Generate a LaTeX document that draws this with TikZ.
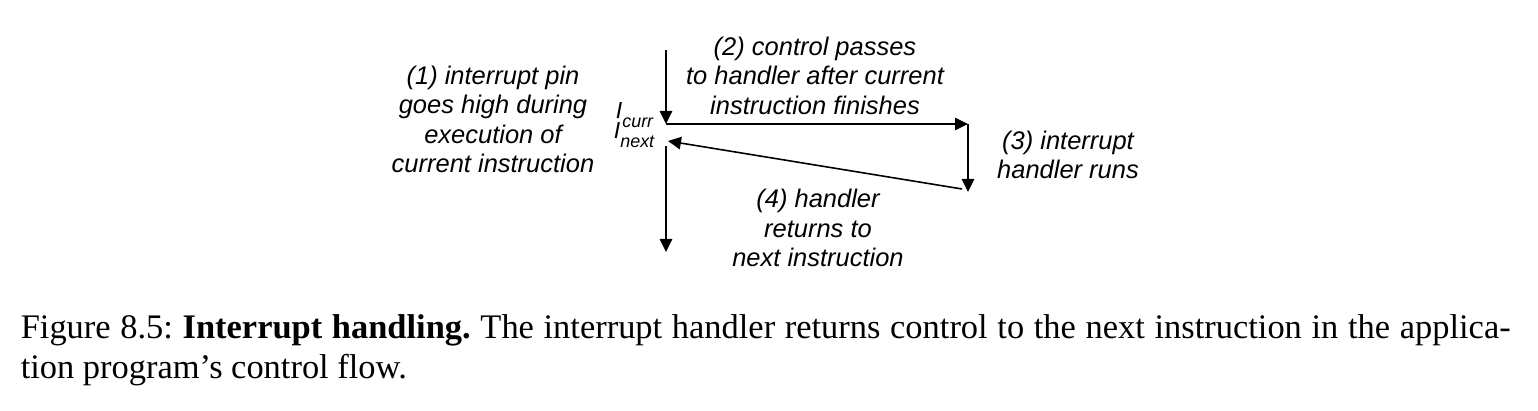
\documentclass[tikz,border=0pt]{standalone}
\usepackage{fontspec}
\setmainfont{Liberation Serif}
\newfontfamily\helv{Liberation Sans}
\usetikzlibrary{arrows.meta}

\newcommand{\instr}[1]{\fontsize{6.6}{7}\selectfont I\raisebox{-2.3pt}{\fontsize{5.1}{5}\selectfont #1}}

\begin{document}
\begin{tikzpicture}[line width=0.45pt, >={Triangle[length=1.3mm, width=1.25mm]},
        note/.style = {font=\helv\itshape\fontsize{7.25}{8.4}\selectfont, align=center, inner sep=0pt},
        lbl/.style = {font=\helv\itshape, anchor=base east, inner sep=0pt}]
        \useasboundingbox (0,0) rectangle (15.38,-4.11);

        \coordinate (pin) at (6.66,-0.50);
        \coordinate (curr) at (6.66,-1.24);
        \coordinate (done) at (9.68,-1.24);
        \coordinate (runs) at (9.68,-1.92);
        \coordinate (ret) at (9.62,-1.89);
        \coordinate (next) at (6.68,-1.41);
        \coordinate (resume) at (6.66,-1.46);
        \coordinate (go) at (6.66,-2.52);

        \node[lbl] (Icurr) at (6.54,-1.19) {\instr{curr}};
        \node[lbl] (Inext) at (6.55,-1.39) {\instr{next}};

        \node[note] (pinhigh) at (4.93,-1.195) {(1) interrupt pin\\goes high during\\execution of\\current instruction};
        \node[note] (pass) at (8.15,-0.755) {(2) control passes\\to handler after current\\instruction finishes};
        \node[note] (handler) at (10.68,-1.55) {(3) interrupt\\handler runs};
        \node[note] (back) at (8.18,-2.28) {(4) handler\\returns to\\next instruction};

        \draw[->] (pin) -- (curr);
        \draw[->] (curr) -- (done);
        \draw[->] (done) -- (runs);
        \draw[->] (ret) -- (next);
        \draw[->] (resume) -- (go);

        \node[anchor=base west, inner sep=0pt, text width=423.9pt, align=justify,
              font=\fontsize{9.8}{11.1}\selectfont\frenchspacing] (caption) at (0.20,-3.39)
              {Figure 8.5: \textbf{Interrupt handling.} The interrupt handler returns control to the next instruction in the applica-\linebreak tion program's control flow.};
    \end{tikzpicture}
\end{document}
